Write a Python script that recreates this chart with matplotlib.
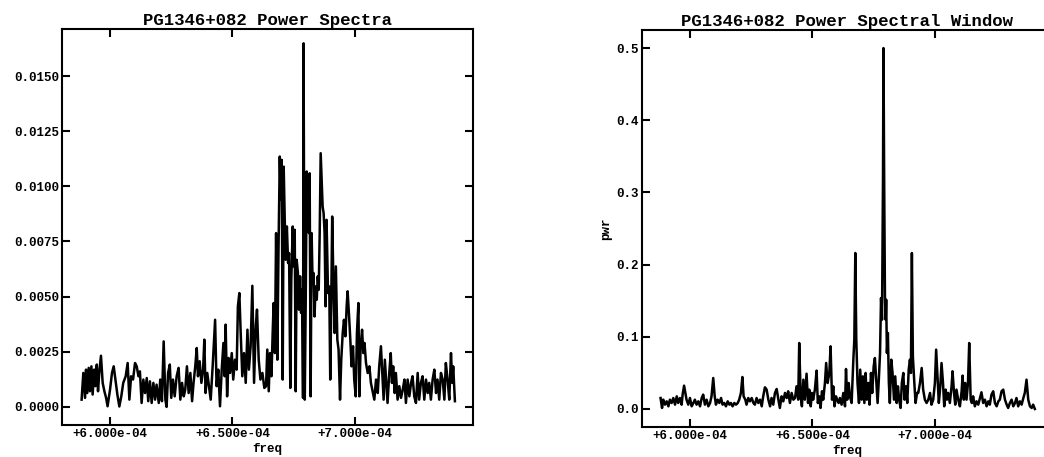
'''
import packages
'''
import matplotlib
matplotlib.use("Agg")
import matplotlib.pyplot as plt

'''
data read off the scanned figure
freq in units of 1e-4, left power in units of 1e-3, window power as is
'''
left_freq = [5.884, 5.891, 5.898, 5.902, 5.907, 5.913, 5.918, 5.924, 5.929, 5.935,
             5.940, 5.946, 5.951, 5.956, 5.963, 5.970, 5.977, 5.984, 5.990, 6.000,
             6.008, 6.015, 6.022, 6.030, 6.038, 6.046, 6.054, 6.064, 6.072, 6.079,
             6.086, 6.094, 6.102, 6.109, 6.116, 6.122, 6.129, 6.136, 6.143, 6.150,
             6.156, 6.163, 6.170, 6.177, 6.184, 6.190, 6.199, 6.205, 6.212, 6.219,
             6.226, 6.231, 6.237, 6.244, 6.250, 6.257, 6.264, 6.272, 6.280, 6.287,
             6.294, 6.301, 6.307, 6.314, 6.321, 6.328, 6.335, 6.341, 6.348, 6.354,
             6.359, 6.366, 6.373, 6.380, 6.385, 6.390, 6.397, 6.404, 6.411, 6.419,
             6.429, 6.435, 6.442, 6.449, 6.456, 6.463, 6.468, 6.472, 6.478, 6.484,
             6.490, 6.497, 6.503, 6.510, 6.517, 6.522, 6.528, 6.533, 6.540, 6.547,
             6.554, 6.561, 6.567, 6.574, 6.581, 6.588, 6.595, 6.600, 6.607, 6.614,
             6.622, 6.630, 6.637, 6.642, 6.648, 6.653, 6.659, 6.664, 6.668, 6.673,
             6.678, 6.683, 6.688, 6.693, 6.697, 6.701, 6.705, 6.709, 6.713, 6.717,
             6.722, 6.727, 6.731, 6.736, 6.740, 6.746, 6.750, 6.754, 6.758, 6.762,
             6.767, 6.771, 6.776, 6.780, 6.784, 6.788, 6.790, 6.795, 6.799, 6.803,
             6.807, 6.812, 6.815, 6.819, 6.823, 6.827, 6.831, 6.835, 6.839, 6.844,
             6.848, 6.852, 6.856, 6.860, 6.864, 6.868, 6.872, 6.876, 6.880, 6.884,
             6.890, 6.895, 6.899, 6.903, 6.907, 6.912, 6.917, 6.922, 6.928, 6.933,
             6.939, 6.944, 6.950, 6.955, 6.961, 6.966, 6.970, 6.976, 6.981, 6.986,
             6.992, 6.997, 7.003, 7.008, 7.014, 7.018, 7.023, 7.029, 7.034, 7.039,
             7.045, 7.052, 7.059, 7.065, 7.072, 7.079, 7.086, 7.093, 7.099, 7.106,
             7.112, 7.117, 7.122, 7.128, 7.133, 7.140, 7.146, 7.151, 7.156, 7.162,
             7.167, 7.174, 7.181, 7.188, 7.195, 7.202, 7.208, 7.215, 7.222, 7.229,
             7.235, 7.242, 7.249, 7.256, 7.262, 7.269, 7.276, 7.283, 7.290, 7.297,
             7.303, 7.310, 7.317, 7.324, 7.331, 7.337, 7.344, 7.351, 7.358, 7.365,
             7.371, 7.378, 7.385, 7.392, 7.397, 7.401, 7.408]
left_pow = [0.33, 1.54, 0.41, 1.69, 0.63, 1.77, 0.71, 1.84, 0.56, 1.69,
            0.94, 1.92, 0.71, 1.54, 2.32, 1.09, 0.71, 0.41, 0.03, 0.78,
            1.54, 1.84, 1.24, 0.56, 0.02, 0.48, 1.09, 1.39, 1.99, 0.33,
            1.39, 1.24, 1.99, 1.84, 1.39, 1.61, 0.18, 1.24, 0.63, 1.31,
            0.26, 1.16, 0.18, 1.09, 0.33, 1.01, 0.18, 1.24, 0.26, 2.97,
            0.33, 0.00, 1.54, 1.92, 0.41, 1.24, 0.48, 1.39, 1.77, 0.33,
            1.09, 0.48, 0.78, 1.84, 0.63, 1.54, 0.26, 1.09, 1.84, 2.67,
            1.39, 2.07, 1.09, 1.69, 3.05, 0.63, 1.54, 0.94, 0.33, 1.84,
            3.95, 0.94, 1.69, 0.03, 1.69, 2.90, 1.39, 3.73, 0.48, 2.22,
            1.54, 2.44, 1.24, 2.14, 1.69, 4.56, 5.16, 3.50, 1.39, 2.44,
            1.09, 3.50, 1.69, 2.75, 5.49, 1.09, 3.65, 4.41, 2.14, 1.24,
            1.54, 0.86, 0.94, 2.60, 0.71, 2.44, 1.39, 3.35, 4.71, 2.44,
            7.88, 2.14, 7.27, 11.35, 9.39, 11.20, 1.24, 10.89, 8.63, 6.67,
            8.18, 6.52, 6.97, 0.86, 5.76, 8.18, 6.37, 8.03, 0.71, 6.67,
            6.07, 4.41, 5.92, 4.26, 5.31, 0.41, 16.48, 0.33, 4.86, 10.67,
            9.08, 7.88, 10.59, 0.48, 7.88, 5.61, 6.07, 4.10, 5.46, 4.86,
            5.92, 5.31, 7.88, 11.50, 10.29, 9.08, 8.78, 7.88, 4.56, 8.48,
            5.16, 5.46, 1.24, 4.56, 8.63, 5.61, 3.35, 6.37, 3.05, 2.60,
            0.33, 2.14, 3.35, 3.95, 3.20, 4.56, 5.24, 4.10, 3.05, 1.84,
            2.75, 1.24, 0.48, 3.35, 4.71, 0.48, 2.75, 3.50, 2.44, 2.90,
            1.99, 1.54, 1.84, 1.09, 0.71, 0.33, 1.24, 0.63, 1.84, 2.75,
            1.39, 0.33, 2.14, 1.09, 0.18, 1.54, 2.44, 1.09, 1.84, 0.63,
            1.54, 0.33, 0.94, 0.41, 0.78, 1.24, 0.18, 1.24, 0.48, 1.09,
            1.39, 0.48, 0.18, 1.54, 0.33, 1.09, 1.39, 0.33, 1.24, 0.63,
            1.09, 0.33, 1.24, 1.69, 0.63, 1.24, 0.33, 1.54, 1.24, 0.33,
            1.99, 1.24, 0.33, 2.44, 1.09, 1.84, 0.26]

right_freq = [5.880, 5.886, 5.891, 5.898, 5.905, 5.912, 5.918, 5.925, 5.932, 5.939,
              5.946, 5.952, 5.959, 5.966, 5.970, 5.976, 5.981, 5.986, 5.993, 6.000,
              6.007, 6.014, 6.020, 6.027, 6.034, 6.041, 6.048, 6.054, 6.061, 6.068,
              6.075, 6.082, 6.088, 6.095, 6.101, 6.106, 6.113, 6.120, 6.127, 6.133,
              6.140, 6.147, 6.154, 6.161, 6.167, 6.174, 6.181, 6.188, 6.195, 6.201,
              6.208, 6.214, 6.219, 6.226, 6.231, 6.238, 6.245, 6.252, 6.259, 6.265,
              6.272, 6.279, 6.286, 6.293, 6.299, 6.306, 6.313, 6.320, 6.327, 6.333,
              6.340, 6.347, 6.354, 6.361, 6.367, 6.374, 6.381, 6.388, 6.395, 6.401,
              6.408, 6.415, 6.422, 6.429, 6.435, 6.442, 6.446, 6.452, 6.457, 6.463,
              6.469, 6.476, 6.482, 6.487, 6.493, 6.498, 6.503, 6.510, 6.517, 6.522,
              6.528, 6.533, 6.539, 6.544, 6.551, 6.556, 6.562, 6.569, 6.574, 6.580,
              6.585, 6.590, 6.596, 6.601, 6.607, 6.612, 6.619, 6.626, 6.633, 6.637,
              6.642, 6.648, 6.653, 6.660, 6.667, 6.671, 6.675, 6.679, 6.684, 6.690,
              6.695, 6.701, 6.706, 6.712, 6.717, 6.722, 6.728, 6.733, 6.739, 6.744,
              6.750, 6.755, 6.761, 6.766, 6.771, 6.776, 6.780, 6.784, 6.788, 6.790,
              6.793, 6.796, 6.799, 6.801, 6.804, 6.808, 6.812, 6.816, 6.822, 6.827,
              6.833, 6.838, 6.844, 6.849, 6.854, 6.860, 6.865, 6.871, 6.876, 6.882,
              6.887, 6.893, 6.898, 6.902, 6.906, 6.910, 6.916, 6.921, 6.927, 6.932,
              6.939, 6.946, 6.952, 6.959, 6.966, 6.973, 6.980, 6.986, 6.993, 7.000,
              7.005, 7.011, 7.016, 7.022, 7.027, 7.033, 7.038, 7.044, 7.049, 7.054,
              7.061, 7.068, 7.072, 7.078, 7.083, 7.088, 7.095, 7.102, 7.109, 7.113,
              7.118, 7.124, 7.129, 7.135, 7.140, 7.146, 7.151, 7.156, 7.163, 7.170,
              7.177, 7.184, 7.190, 7.197, 7.204, 7.211, 7.218, 7.224, 7.231, 7.238,
              7.245, 7.252, 7.259, 7.265, 7.272, 7.279, 7.286, 7.293, 7.299, 7.306,
              7.313, 7.320, 7.327, 7.333, 7.340, 7.347, 7.354, 7.361, 7.367, 7.374,
              7.381, 7.388, 7.395, 7.401, 7.408]
right_pow = [0.0152, 0.0014, 0.0129, 0.0060, 0.0106, 0.0037, 0.0129, 0.0083, 0.0152, 0.0060,
             0.0175, 0.0083, 0.0152, 0.0060, 0.0199, 0.0323, 0.0222, 0.0129, 0.0060, 0.0152,
             0.0037, 0.0083, 0.0129, 0.0060, 0.0106, 0.0037, 0.0152, 0.0199, 0.0060, 0.0129,
             0.0037, 0.0083, 0.0175, 0.0429, 0.0175, 0.0060, 0.0129, 0.0083, 0.0152, 0.0060,
             0.0083, 0.0037, 0.0106, 0.0060, 0.0083, 0.0037, 0.0083, 0.0060, 0.0083, 0.0129,
             0.0222, 0.0443, 0.0175, 0.0129, 0.0060, 0.0152, 0.0106, 0.0152, 0.0083, 0.0060,
             0.0152, 0.0083, 0.0129, 0.0037, 0.0175, 0.0300, 0.0268, 0.0129, 0.0037, 0.0152,
             0.0060, 0.0222, 0.0277, 0.0129, 0.0014, 0.0175, 0.0106, 0.0222, 0.0152, 0.0245,
             0.0083, 0.0222, 0.0129, 0.0152, 0.0314, 0.0129, 0.0914, 0.0175, 0.0037, 0.0406,
             0.0129, 0.0489, 0.0083, 0.0268, 0.0037, 0.0222, 0.0129, 0.0268, 0.0531, 0.0083,
             0.0175, 0.0014, 0.0245, 0.0129, 0.0360, 0.0637, 0.0360, 0.0499, 0.0868, 0.0129,
             0.0314, 0.0037, 0.0175, 0.0129, 0.0083, 0.0152, 0.0060, 0.0222, 0.0037, 0.0554,
             0.0129, 0.0360, 0.0175, 0.0083, 0.0683, 0.0960, 0.2161, 0.0960, 0.0360, 0.0083,
             0.0545, 0.0129, 0.0452, 0.0083, 0.0499, 0.0129, 0.0360, 0.0060, 0.0499, 0.0222,
             0.0591, 0.0706, 0.0360, 0.0083, 0.0406, 0.0776, 0.1537, 0.1237, 0.3176, 0.5000,
             0.3084, 0.1560, 0.1237, 0.1514, 0.0776, 0.1053, 0.0360, 0.0083, 0.0683, 0.0499,
             0.0129, 0.0452, 0.0083, 0.0314, 0.0129, 0.0014, 0.0360, 0.0499, 0.0129, 0.0314,
             0.0083, 0.0545, 0.0683, 0.0499, 0.2161, 0.0729, 0.0360, 0.0083, 0.0222, 0.0222,
             0.0360, 0.0568, 0.0268, 0.0129, 0.0083, 0.0129, 0.0222, 0.0060, 0.0129, 0.0360,
             0.0822, 0.0406, 0.0083, 0.0314, 0.0637, 0.0360, 0.0037, 0.0268, 0.0129, 0.0222,
             0.0083, 0.0314, 0.0522, 0.0222, 0.0060, 0.0268, 0.0129, 0.0037, 0.0245, 0.0462,
             0.0129, 0.0360, 0.0129, 0.0360, 0.0914, 0.0129, 0.0083, 0.0175, 0.0037, 0.0106,
             0.0060, 0.0152, 0.0231, 0.0083, 0.0129, 0.0037, 0.0106, 0.0060, 0.0199, 0.0245,
             0.0083, 0.0037, 0.0106, 0.0129, 0.0245, 0.0268, 0.0129, 0.0060, 0.0014, 0.0083,
             0.0129, 0.0037, 0.0083, 0.0152, 0.0037, 0.0106, 0.0060, 0.0152, 0.0222, 0.0406,
             0.0129, 0.0037, 0.0014, 0.0060, 0.0000]

x_ticks = [6.0e-4, 6.5e-4, 7.0e-4]
x_labels = ['+6.000e-04', '+6.500e-04', '+7.000e-04']
left_yticks = [0.0, 0.0025, 0.005, 0.0075, 0.01, 0.0125, 0.015]
left_ylabels = ['0.0000', '0.0025', '0.0050', '0.0075', '0.0100', '0.0125', '0.0150']
right_yticks = [0.0, 0.1, 0.2, 0.3, 0.4, 0.5]
right_ylabels = ['0.0', '0.1', '0.2', '0.3', '0.4', '0.5']

'''
style
'''
mono = 'Liberation Mono'
plt.rcParams['font.family'] = mono
plt.rcParams['font.weight'] = 'bold'

fig = plt.figure(figsize=(10.44, 4.57), dpi=100)
ax1 = fig.add_axes([0.0594, 0.0700, 0.3937, 0.8665])
ax2 = fig.add_axes([0.6149, 0.0656, 0.3937, 0.8687])


def style_axes(ax, title):
    for s in ax.spines.values():
        s.set_linewidth(1.5)
    ax.tick_params(direction='in', length=6, width=1.5, top=True, right=True,
                   labelsize=9, pad=2)
    ax.set_xticks(x_ticks)
    ax.set_xticklabels(x_labels, fontweight='bold')
    ax.set_xlim(5.804e-4, 7.482e-4)
    ax.set_title(title, fontsize=12.5, fontweight='bold', pad=3)
    ax.set_xlabel('freq', fontsize=9, fontweight='bold', labelpad=2)


'''
left: power spectra
'''
ax1.plot([f * 1e-4 for f in left_freq], [p * 1e-3 for p in left_pow],
         color='black', lw=1.8)
style_axes(ax1, 'PG1346+082 Power Spectra')
ax1.set_yticks(left_yticks)
ax1.set_yticklabels(left_ylabels, fontweight='bold')
ax1.set_ylim(-0.00082, 0.01713)

'''
right: spectral window
'''
ax2.plot([f * 1e-4 for f in right_freq], right_pow, color='black', lw=1.8)
style_axes(ax2, 'PG1346+082 Power Spectral Window')
ax2.set_yticks(right_yticks)
ax2.set_yticklabels(right_ylabels, fontweight='bold')
ax2.set_ylim(-0.025, 0.525)
ax2.set_ylabel('pwr', fontsize=9, fontweight='bold', labelpad=3)

fig.savefig('out.png', dpi=100)
